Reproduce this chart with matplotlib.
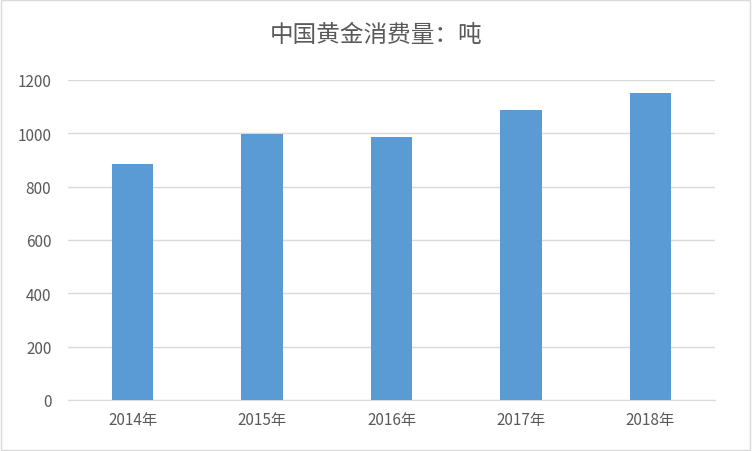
import matplotlib
matplotlib.use("Agg")
import matplotlib.pyplot as plt
from matplotlib.patches import Rectangle

plt.rcParams['font.family'] = ['Noto Sans CJK SC', 'DejaVu Sans']

categories = ["2014年", "2015年", "2016年", "2017年", "2018年"]
values = [886, 996, 986, 1089, 1151]
yticks = [0, 200, 400, 600, 800, 1000, 1200]

fig = plt.figure(figsize=(7.52, 4.52), dpi=100)
ax = fig.add_axes([68/752, 51/452, 647/752, 320/452])
x = range(len(categories))
ax.bar(x, values, width=0.32, color="#5B9BD5", zorder=3)
ax.set_xlim(-0.5, len(categories) - 0.5)
ax.set_ylim(0, 1200)
ax.set_yticks(yticks)
ax.set_xticks(list(x))
ax.set_xticklabels(categories)
ax.grid(axis='y', color="#D9D9D9", linewidth=1, zorder=0)
for s in ['top', 'right', 'left']:
    ax.spines[s].set_visible(False)
ax.spines['bottom'].set_color("#D9D9D9")
ax.tick_params(axis='both', length=0, colors="#595959", labelsize=11)
ax.tick_params(axis='y', pad=12)
ax.tick_params(axis='x', pad=8)
fig.text(0.5, 1 - 35/452, "中国黄金消费量：吨", ha='center', va='center',
         fontsize=17, color="#595959")
fig.patches.append(Rectangle((0.001, 0.002), 0.997, 0.996, transform=fig.transFigure,
                             fill=False, edgecolor="#D9D9D9", linewidth=1))
fig.savefig("out.png", dpi=100)
